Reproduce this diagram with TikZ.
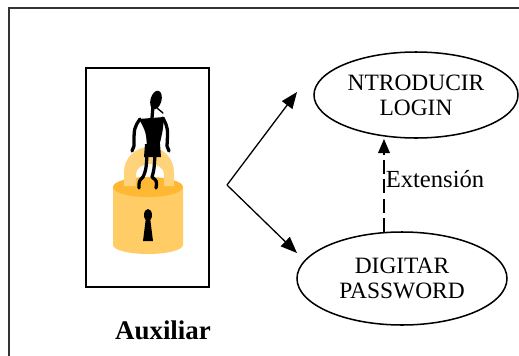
\documentclass[tikz,border=0pt]{standalone}
\usepackage{fontspec}
\setmainfont{Liberation Serif}
\usetikzlibrary{arrows.meta, shapes.geometric, positioning}

\definecolor{lockbody}{HTML}{FFCC66}
\definecolor{locktop}{HTML}{FFB833}
\definecolor{shackle}{HTML}{FFD37A}

\begin{document}
\begin{tikzpicture}[x=0.03cm, y=-0.03cm]
        \tikzset{
          usecase/.style={draw, ellipse, line width=1.3pt, inner sep=0pt,
                          align=center, font=\fontsize{20}{21.5}\selectfont},
          assoc/.style={-{Triangle[length=14pt, width=11pt]}, line width=1.1pt},
          extend/.style={-{Triangle[length=12pt, width=10pt]}, line width=1.1pt,
                         dash pattern=on 12pt off 4.5pt},
          limb/.style={line width=2.8pt, line cap=round, line join=round}
        }
        \useasboundingbox (0,0) rectangle (519,356);
        \begin{scope}
          \clip (0,0) rectangle (519,356);
          \draw[line width=1.7pt, black!80] (9,8) rectangle (540,380);
        \end{scope}

        % actor picture
        \node[draw, line width=1.6pt, minimum width=3.69cm,
              minimum height=6.57cm] (pic) at (147.5,177.5) {};
        \fill[lockbody] (113,187) -- (113,245)
              arc[start angle=180, end angle=0, x radius=35, y radius=9]
              -- (183,187) -- cycle;
        \fill[locktop] (148,187) ellipse [x radius=35, y radius=10];
        \fill[shackle] (124,186) -- (124,172)
              arc[start angle=180, end angle=360, radius=25]
              -- (174,186) -- (164,186) -- (164,174)
              arc[start angle=360, end angle=180, x radius=14, y radius=10]
              -- (136,186) -- cycle;
        \fill (148,215) ellipse [x radius=4, y radius=6];
        \fill (146,217) -- (143,241) -- (153,241) -- (150,217) -- cycle;

        % the little man on the lock
        \fill[rotate around={-15:(156,100)}] (156,100)
              ellipse [x radius=5.5, y radius=9.5];
        \draw[line width=1.2pt, line cap=round] (157,108)
              .. controls (160,111) .. (163,113);
        \draw[limb] (153,106) -- (152,118);
        \fill (139,119) -- (164,117) .. controls (163,130) .. (159,147)
              -- (147,147) .. controls (146,132) .. (139,119) -- cycle;
        \draw[limb] (140,119) .. controls (134,128) .. (134,146) -- (132,151);
        \draw[limb] (163,118) .. controls (168,128) .. (167,146) -- (169,151);
        \fill (145,144) -- (160,144) -- (161,157) -- (144,157) -- cycle;
        \draw[limb] (147,155) .. controls (146,170) .. (143,177)
              .. controls (139,181) .. (139,188);
        \draw[limb] (155,155) .. controls (154,170) .. (152,177)
              .. controls (157,181) .. (156,188);

        \node[font=\bfseries\fontsize{23}{26}\selectfont] (aux)
              at (163,330) {Auxiliar};

        % use cases
        \node[usecase, minimum width=6.12cm, minimum height=2.58cm]
              (login) at (416,95) {NTRODUCIR\\LOGIN};
        \node[usecase, minimum width=6.3cm, minimum height=2.79cm]
              (pass) at (402,278.5) {DIGITAR\\PASSWORD};

        \coordinate (fork) at (227,185);
        \coordinate (loginend) at (297,92);
        \coordinate (passend) at (297,253);
        \draw[assoc] (fork) -- (loginend);
        \draw[assoc] (fork) -- (passend);

        \coordinate (extfoot) at (384,232);
        \coordinate (exthead) at (384,139);
        \draw[extend] (extfoot) -- node[pos=0.57, anchor=west, inner sep=1pt,
              font=\fontsize{21}{24}\selectfont] (extlabel) {Extensión} (exthead);
      \end{tikzpicture}
\end{document}
